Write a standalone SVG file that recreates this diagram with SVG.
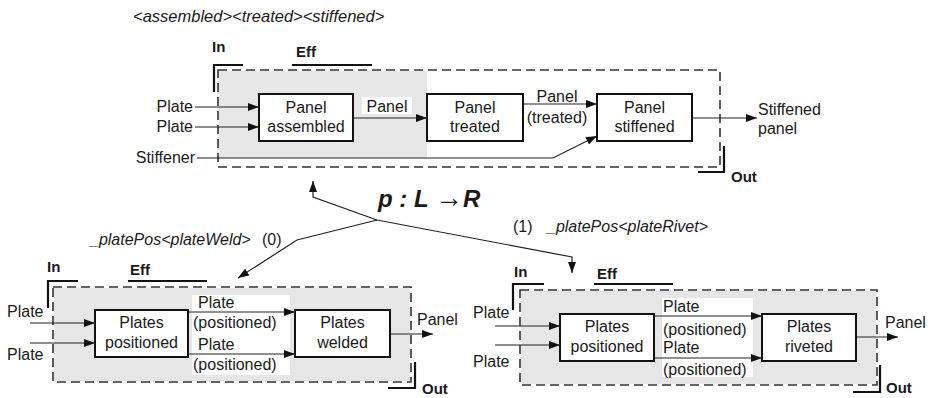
<svg xmlns="http://www.w3.org/2000/svg" width="930" height="398" viewBox="0 0 930 398">
<defs>
<marker id="ah" markerUnits="userSpaceOnUse" markerWidth="12" markerHeight="8" refX="11" refY="4" orient="auto"><path d="M0,0 L11,4 L0,8 z" fill="#111"/></marker>
<style>
text{font-family:"Liberation Sans",Arial,sans-serif;fill:#1a1a1a;font-size:16px}
.it{font-style:italic}
.b{font-weight:bold;font-size:15px}
.mid{text-anchor:middle}
.end{text-anchor:end}
.box{fill:#fff;stroke:#111;stroke-width:2}
.dash{fill:none;stroke:#333;stroke-width:1.6;stroke-dasharray:9 5}
.br{fill:none;stroke:#111;stroke-width:2.2}
.gray{fill:#e6e6e6}
.wh{fill:#fff}
.ar{fill:none;stroke:#222;stroke-width:1.2;marker-end:url(#ah)}
</style>
</defs>
<rect width="930" height="398" fill="#fff"/>

<g id="top-frame">
<text x="133" y="22" class="it" style="font-size:16.5px">&lt;assembled&gt;&lt;treated&gt;&lt;stiffened&gt;</text>
<rect class="gray" x="219" y="71" width="208" height="87"/>
<rect class="wh" x="362" y="97" width="50" height="17"/>
<rect class="dash" x="218" y="70" width="502" height="97"/>
<text x="212" y="52" class="b">In</text>
<path class="br" d="M214,92 V65 H243"/>
<text x="296" y="57" class="b">Eff</text>
<path class="br" d="M292,65 H372"/>
<path class="br" d="M698,172 H724 V146"/>
<text x="731" y="182" class="b">Out</text>
<text x="193" y="112" class="end">Plate</text>
<text x="193" y="132" class="end">Plate</text>
<text x="195" y="163" class="end">Stiffener</text>
<text x="387" y="112" class="mid">Panel</text>
<text x="557" y="102" class="mid">Panel</text>
<text x="557" y="123" class="mid">(treated)</text>
<text x="758" y="115">Stiffened</text>
<text x="758" y="134">panel</text>
</g>

<g id="left-frame">
<rect class="gray" x="54" y="288" width="356" height="93"/>
<rect class="wh" x="192" y="295" width="98" height="80"/>
<rect class="dash" x="53" y="287" width="358" height="95"/>
<text x="47" y="272" class="b">In</text>
<path class="br" d="M48,308 V281 H78"/>
<text x="130" y="275" class="b">Eff</text>
<path class="br" d="M128,281 H207"/>
<path class="br" d="M388,388 H415 V362"/>
<text x="422" y="394" class="b">Out</text>
<text x="7" y="317">Plate</text>
<text x="7" y="360">Plate</text>
<text x="198" y="308">Plate</text>
<text x="193" y="328">(positioned)</text>
<text x="198" y="350">Plate</text>
<text x="193" y="370">(positioned)</text>
<text x="417" y="325">Panel</text>
</g>

<g id="right-frame">
<rect class="gray" x="521" y="291" width="355" height="93"/>
<rect class="wh" x="662" y="298" width="91" height="79"/>
<rect class="dash" x="520" y="290" width="357" height="95"/>
<text x="514" y="277" class="b">In</text>
<path class="br" d="M513,310 V284 H544"/>
<text x="597" y="279" class="b">Eff</text>
<path class="br" d="M594,284 H673"/>
<path class="br" d="M853,392 H880 V365"/>
<text x="886" y="393" class="b">Out</text>
<text x="473" y="318">Plate</text>
<text x="473" y="367">Plate</text>
<text x="663" y="312">Plate</text>
<text x="663" y="335">(positioned)</text>
<text x="663" y="353">Plate</text>
<text x="663" y="375">(positioned)</text>
<text x="885" y="328">Panel</text>
</g>

<g id="rule">
<text x="378" y="207" style="font-size:24px;font-weight:bold;font-style:italic">p : L <tspan style="font-size:28px;font-style:normal;font-weight:normal">→</tspan>R</text>
<text x="90" y="245" class="it">_platePos&lt;plateWeld&gt;</text>
<text x="262" y="245">(0)</text>
<text x="513" y="232">(1)</text>
<text x="547" y="232" class="it">_platePos&lt;plateRivet&gt;</text>
</g>

<g id="connectors">
<path class="ar" d="M195,107 H259"/>
<path class="ar" d="M195,127 H259"/>
<path class="ar" d="M197,158 H553 L597,136"/>
<path class="ar" d="M353,118 H427"/>
<path class="ar" d="M523,104 H597"/>
<path class="ar" d="M692,118 H757"/>
<path class="ar" d="M377,220 L313,197 V181"/>
<path class="ar" d="M377,220 L572,257 V273"/>
<path class="ar" d="M377,220 L297,240 L238,278"/>
<path class="ar" d="M30,323 H95"/>
<path class="ar" d="M30,343 H95"/>
<path class="ar" d="M188,312 H295"/>
<path class="ar" d="M188,354 H295"/>
<path class="ar" d="M390,334 H433"/>
<path class="ar" d="M495,326 H560"/>
<path class="ar" d="M495,345 H560"/>
<path class="ar" d="M654,316 H762"/>
<path class="ar" d="M654,358 H762"/>
<path class="ar" d="M856,337 H898"/>
</g>

<g id="n-panel-assembled">
<rect class="box" x="259" y="94" width="94" height="47"/>
<text x="306" y="113" class="mid">Panel</text>
<text x="306" y="132" class="mid">assembled</text>
</g>
<g id="n-panel-treated">
<rect class="box" x="427" y="94" width="96" height="47"/>
<text x="475" y="113" class="mid">Panel</text>
<text x="475" y="132" class="mid">treated</text>
</g>
<g id="n-panel-stiffened">
<rect class="box" x="597" y="94" width="95" height="47"/>
<text x="644.5" y="113" class="mid">Panel</text>
<text x="644.5" y="132" class="mid">stiffened</text>
</g>
<g id="n-plates-positioned-l">
<rect class="box" x="95" y="310" width="93" height="47"/>
<text x="141.5" y="328" class="mid">Plates</text>
<text x="141.5" y="348" class="mid">positioned</text>
</g>
<g id="n-plates-welded">
<rect class="box" x="295" y="310" width="95" height="47"/>
<text x="342.5" y="328" class="mid">Plates</text>
<text x="342.5" y="348" class="mid">welded</text>
</g>
<g id="n-plates-positioned-r">
<rect class="box" x="560" y="314" width="94" height="47"/>
<text x="607" y="332" class="mid">Plates</text>
<text x="607" y="352" class="mid">positioned</text>
</g>
<g id="n-plates-riveted">
<rect class="box" x="762" y="314" width="94" height="47"/>
<text x="809" y="332" class="mid">Plates</text>
<text x="809" y="352" class="mid">riveted</text>
</g>
</svg>
